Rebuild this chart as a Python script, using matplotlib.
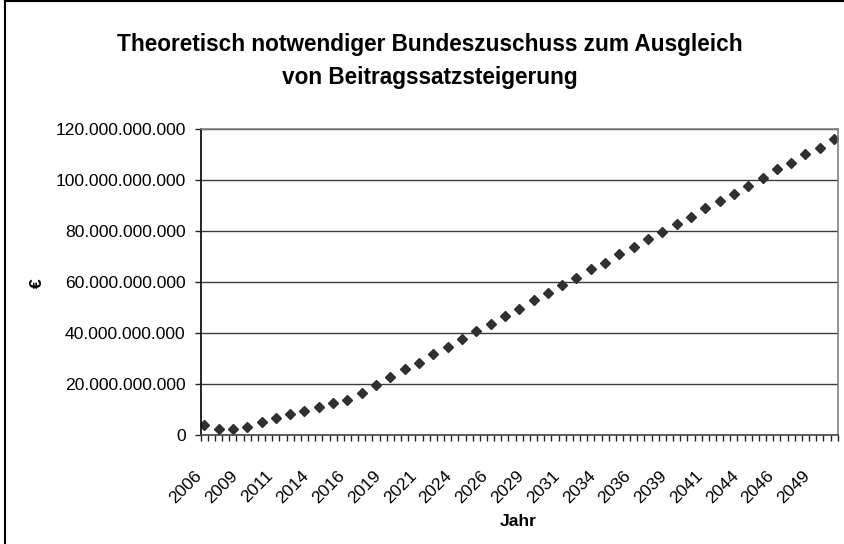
import matplotlib
matplotlib.use('Agg')
import matplotlib.pyplot as plt
import matplotlib.transforms as mtransforms
from matplotlib.ticker import FuncFormatter, FixedLocator
from matplotlib.lines import Line2D
import numpy as np

plt.rcParams['font.family'] = ['Liberation Sans', 'DejaVu Sans']

# Jahre 2006..2050, Werte in Mrd. Euro
jahre = list(range(2006, 2051))
zuschuss_mrd = [3.9, 2.4, 2.4, 3.3, 5.1, 6.7, 8.4, 9.4, 11.0, 12.6,
                13.7, 16.5, 19.7, 22.6, 25.8, 28.4, 31.7, 34.5, 37.7, 40.9,
                43.7, 46.8, 49.6, 52.9, 55.7, 59.0, 61.8, 65.0, 67.6, 70.9,
                73.7, 76.9, 79.6, 82.9, 85.7, 89.0, 91.7, 94.7, 97.6, 100.9,
                104.3, 106.9, 110.2, 112.8, 116.1]
zuschuss = [v * 1e9 for v in zuschuss_mrd]

# Kategorieachse wie in Excel: halbe Jahre, Beschriftung jede 5. Kategorie
kategorien = np.arange(2006, 2050.01, 0.5)
label_pos = kategorien[::5]
label_txt = [str(int(np.floor(k + 0.5))) for k in label_pos]

fig = plt.figure(figsize=(8.44, 5.44), dpi=100)
W, H = 844, 544
ax = fig.add_axes([200.7 / W, (H - 435) / H, 637 / W, 305.7 / H])

ax.plot(jahre, zuschuss, linestyle='none', marker='D', markersize=5.1,
        color='#303030', markeredgecolor='#303030')

ax.set_xlim(kategorien[0] - 0.25, kategorien[-1] + 0.25)
ax.set_ylim(0, 120e9)
ax.set_yticks(np.arange(0, 120e9 + 1, 20e9))
ax.yaxis.set_major_formatter(FuncFormatter(lambda v, p: '{:,.0f}'.format(v).replace(',', '.')))
ax.grid(axis='y', color='#3a3a3a', linewidth=1.0)
ax.set_axisbelow(True)

ax.set_xticks(label_pos)
ax.set_xticklabels(label_txt, rotation=45, ha='right', va='center', rotation_mode='anchor')
ax.xaxis.set_minor_locator(FixedLocator(np.arange(kategorien[0] - 0.25, kategorien[-1] + 0.3, 0.5)))
ax.tick_params(axis='x', which='major', length=0, pad=27.5, labelsize=12.6)
ax.tick_params(axis='x', which='minor', length=4, width=1, color='#222222', direction='out')
ax.tick_params(axis='y', length=4.3, width=1, pad=6.5, labelsize=12.6, color='#222222')

# Beschriftungen etwas nach links ruecken
shift = mtransforms.ScaledTranslation(-5 / 100, 0, fig.dpi_scale_trans)
for lab in ax.get_xticklabels():
    lab.set_transform(lab.get_transform() + shift)

for s in ['top', 'right']:
    ax.spines[s].set_color('#808080')
    ax.spines[s].set_linewidth(1.2)
ax.spines['left'].set_color('black')
ax.spines['bottom'].set_color('#444444')
ax.spines['left'].set_linewidth(1.2)
ax.spines['bottom'].set_linewidth(1.2)

fig.text(430 / W, 1 - 45 / H, 'Theoretisch notwendiger Bundeszuschuss zum Ausgleich',
         ha='center', va='center', fontsize=16.3, fontweight='bold')
fig.text(430 / W, 1 - 78 / H, 'von Beitragssatzsteigerung',
         ha='center', va='center', fontsize=16.3, fontweight='bold')
fig.text(518 / W, 1 - 521 / H, 'Jahr', ha='center', va='center', fontsize=12.6, fontweight='bold')
fig.text(37 / W, 1 - 283 / H, '€', ha='center', va='center', fontsize=12.6,
         fontweight='bold', rotation=90)

# Rahmen des Diagrammbereichs (nur links und oben sichtbar)
fig.add_artist(Line2D([5 / W, 5 / W], [0, 1 - 1 / H], color='black', linewidth=1.5))
fig.add_artist(Line2D([5 / W, 1], [1 - 1 / H, 1 - 1 / H], color='black', linewidth=1.5))

fig.savefig('out.png', dpi=100)
